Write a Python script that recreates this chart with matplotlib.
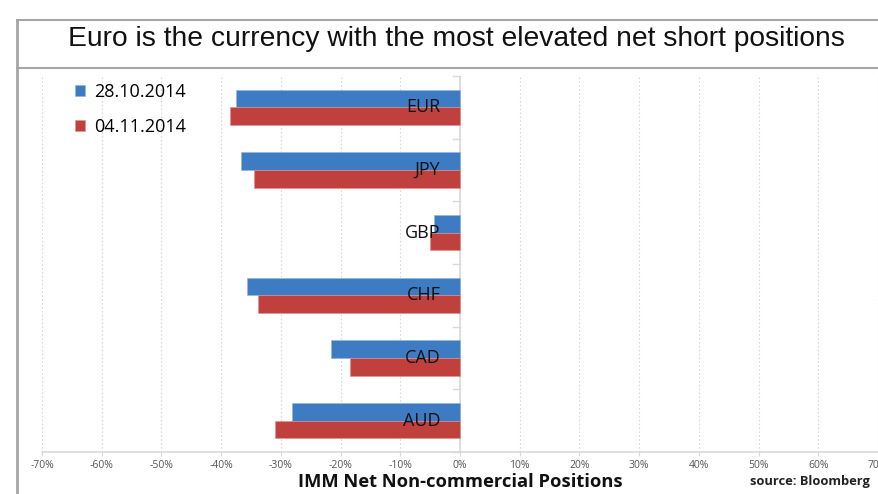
import matplotlib
matplotlib.use("Agg")
import matplotlib.pyplot as plt
import numpy as np
from matplotlib.lines import Line2D
from matplotlib.ticker import FuncFormatter

plt.rcParams["font.family"] = ["Liberation Sans", "DejaVu Sans"]

currencies = ["EUR", "JPY", "GBP", "CHF", "CAD", "AUD"]
series_names = ["28.10.2014", "04.11.2014"]
pos_2810 = [-37.5, -36.6, -4.4, -35.7, -21.6, -28.1]
pos_0411 = [-38.6, -34.5, -5.0, -33.9, -18.5, -31.0]
x_ticks = [-70, -60, -50, -40, -30, -20, -10, 0, 10, 20, 30, 40, 50, 60, 70]

BLUE = "#3d7bc2"
RED = "#c0403d"
GRID = "#d9d9d9"
FRAME = "#a6a6a6"
BODY = ["Open Sans", "DejaVu Sans"]

W, H = 879, 494
fig = plt.figure(figsize=(W / 100, H / 100), dpi=100)
fig.patch.set_facecolor("white")

# outer frame + title band
fig.add_artist(Line2D([17 / W, 17 / W], [0, 1 - 20 / H], transform=fig.transFigure, color=FRAME, lw=2))
fig.add_artist(Line2D([17 / W, 1], [1 - 20 / H, 1 - 20 / H], transform=fig.transFigure, color=FRAME, lw=1.5))
fig.add_artist(Line2D([17 / W, 1], [1 - 68 / H, 1 - 68 / H], transform=fig.transFigure, color=FRAME, lw=1.5))
fig.text(456 / W, 1 - 39 / H, "Euro is the currency with the most elevated net short positions",
         ha="center", va="center", fontsize=20.3, color="#111111")

ax = fig.add_axes([42 / W, 42 / H, (878 - 42) / W, (452 - 76) / H])
ax.set_xlim(-70, 70)
n = len(currencies)
y = np.arange(n)
h = 0.28
ax.barh(y - h / 2, pos_2810, height=h, color=BLUE, edgecolor="#8fb4e0", linewidth=0.4, label=series_names[0], zorder=3)
ax.barh(y + h / 2, pos_0411, height=h, color=RED, edgecolor="#e08f8d", linewidth=0.4, label=series_names[1], zorder=3)
ax.set_ylim(n - 0.5, -0.5)

for yi, c in zip(y, currencies):
    ax.text(-3.3, yi, c, ha="right", va="center", fontsize=13, color="#111111", zorder=4, family=BODY)

ax.set_xticks(x_ticks)
ax.xaxis.set_major_formatter(FuncFormatter(lambda v, p: f"{v:.0f}%"))
ax.tick_params(axis="x", labelsize=7.5, colors="#555555", length=3, color=GRID, pad=3)
for lab in ax.get_xticklabels():
    lab.set_family(BODY)
ax.grid(axis="x", color=GRID, linestyle=(0, (1.5, 2)), lw=0.8, zorder=0)
ax.set_yticks([])
for s in ["top", "right", "left"]:
    ax.spines[s].set_visible(False)
ax.spines["bottom"].set_color(GRID)
ax.spines["bottom"].set_linewidth(1.2)

# category axis at zero with tick marks between groups
ax.axvline(0, color=GRID, lw=1.2, zorder=2)
for b in np.arange(-0.5, n, 1.0):
    ax.plot([-1.2, 0], [b, b], color=GRID, lw=1.0, zorder=2, clip_on=False)

ax.legend(loc="upper left", bbox_to_anchor=(0.02, 1.025), frameon=False,
          handlelength=0.55, handleheight=0.55, handletextpad=0.5, labelspacing=0.95,
          prop={"family": BODY, "size": 13})

fig.text(460 / W, 1 - 482 / H, "IMM Net Non-commercial Positions", ha="center", va="center",
         fontsize=13.2, fontweight="bold", color="#111111", family=BODY)
fig.text(750 / W, 1 - 481 / H, "source: Bloomberg", ha="left", va="center",
         fontsize=9.3, fontweight="bold", color="#222222", family=BODY)

fig.savefig("out.png", dpi=100)
